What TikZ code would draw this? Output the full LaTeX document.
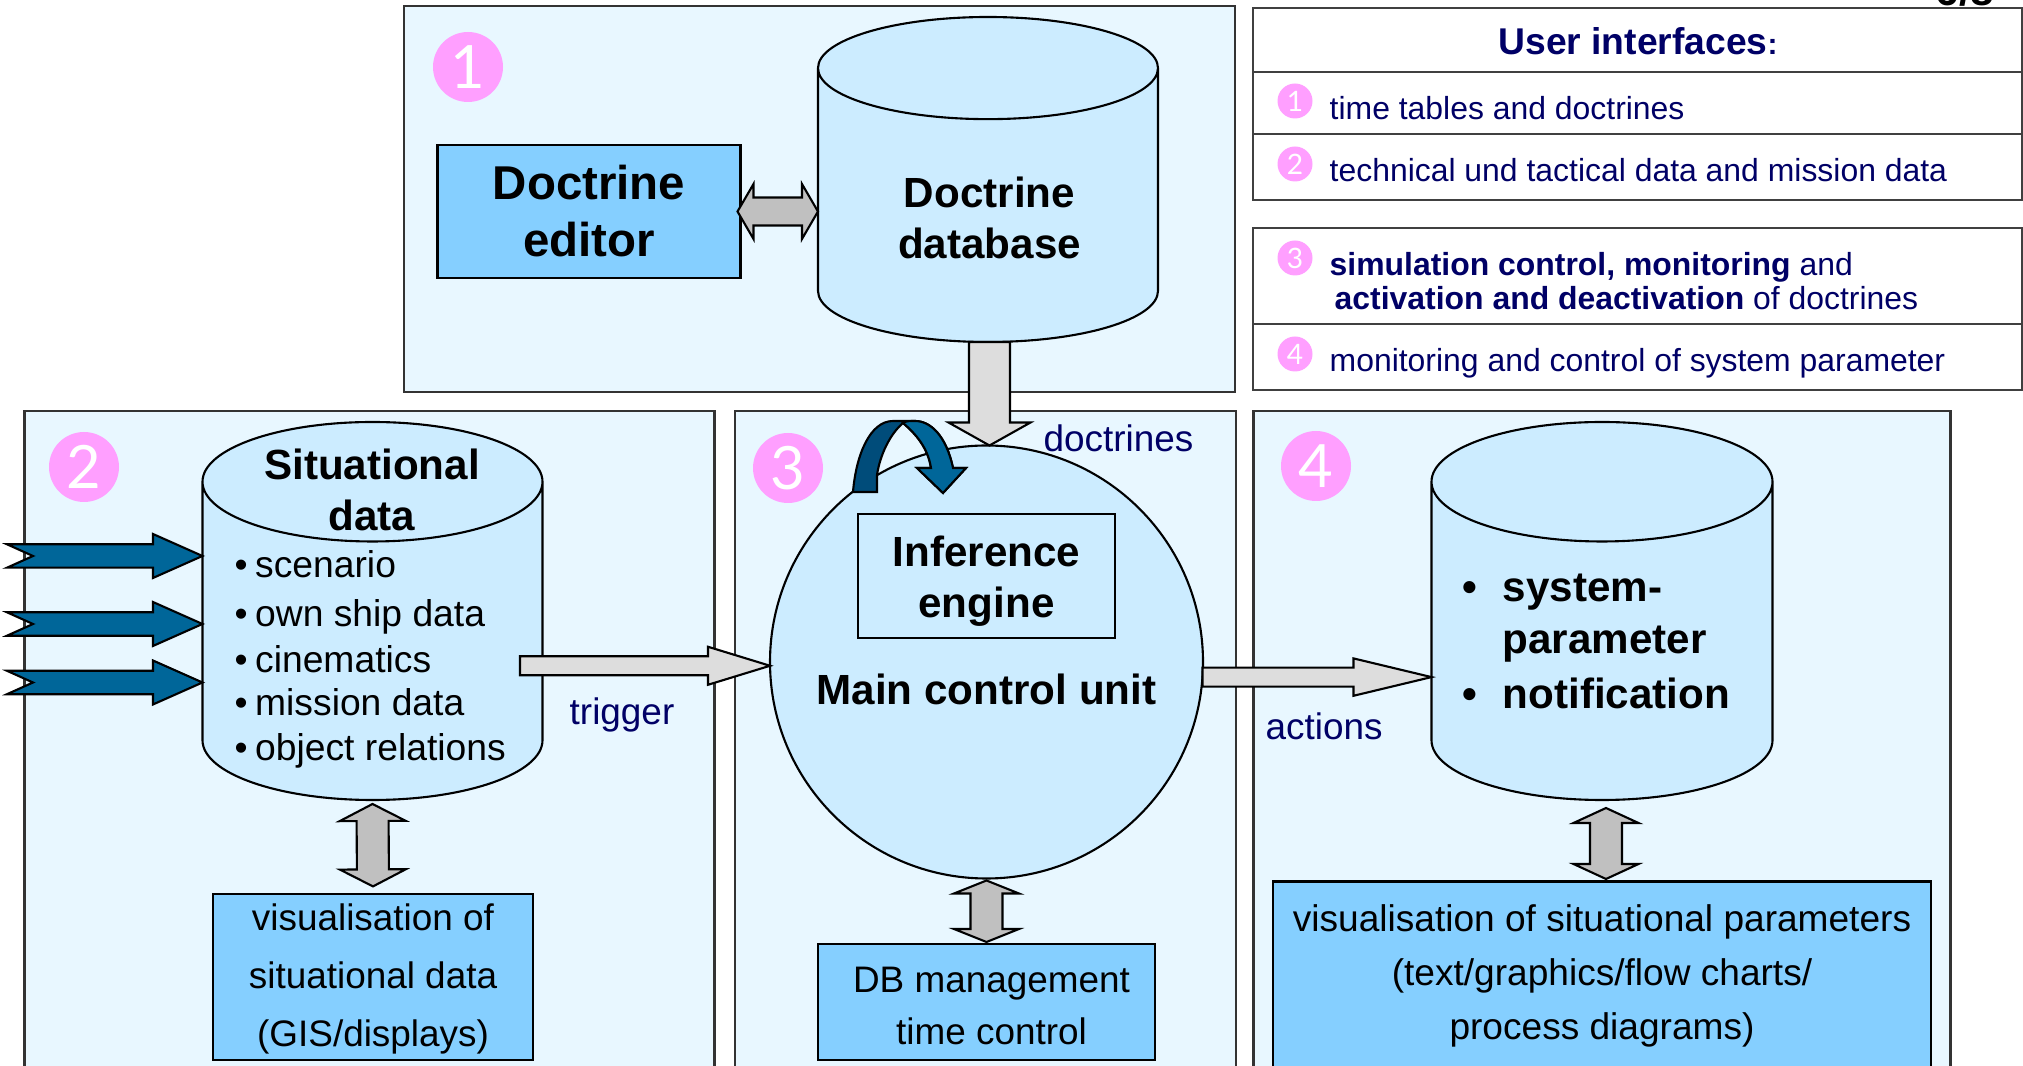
\documentclass[tikz,border=0pt]{standalone}
\usepackage{fontspec}
\setmainfont{Liberation Sans}
\newfontfamily\digitfont{Lato}
\usetikzlibrary{calc,shapes.geometric}
\definecolor{panelblue}{HTML}{E8F7FF}
\definecolor{drumblue}{HTML}{CCECFF}
\definecolor{boxblue}{HTML}{85CFFF}
\definecolor{pinkdot}{HTML}{FF9FFF}
\definecolor{navytext}{HTML}{000066}
\definecolor{seablue}{HTML}{006699}
\definecolor{seadark}{HTML}{004C7A}
\definecolor{barlight}{HTML}{DDDDDD}
\definecolor{bardark}{HTML}{C0C0C0}
\newcommand{\sizetext}[2]{\fontsize{#1}{#2}\selectfont}
\tikzset{
	panel/.style={draw=black!80, line width=.6pt, fill=panelblue, anchor=north west, inner sep=0pt, outer sep=0pt},
	drum/.style={draw, line width=.6pt, cylinder, shape border rotate=90, fill=drumblue, outer sep=0pt, anchor=south},
	viewbox/.style={draw, line width=.6pt, fill=boxblue, inner sep=0pt, outer sep=0pt, align=center},
	rowbox/.style={draw=black!75, line width=.6pt, anchor=north west, inner sep=0pt, outer sep=0pt},
	bigdot/.style={circle, fill=pinkdot, text=white, minimum size=7cm/10, inner sep=0pt, font=\digitfont\sizetext{17}{17}},
	smalldot/.style={circle, fill=pinkdot, text=white, minimum size=3.5cm/10, inner sep=0pt, font=\digitfont\sizetext{8}{8}},
	navyword/.style={anchor=base west, inner sep=0pt, text=navytext, font=\sizetext{10.5}{12}},
	rowtext/.style={anchor=base west, inner sep=0pt, text=navytext, font=\sizetext{9.08}{11}},
	listtext/.style={anchor=base west, inner sep=0pt, font=\sizetext{10.6}{12}},
	headword/.style={inner sep=0pt, align=center, font=\bfseries\sizetext{12}{14.5}},
	% block arrows, half shaft / half head / head length
	onearrow/.style args={#1/#2/#3}{to path={(\tikztostart) coordinate (st) (\tikztotarget) coordinate (tg)
		($(tg)!#3!(st)$) coordinate (nk)
		($(st)!#1!90:(tg)$) -- ($(nk)!#1!90:(tg)$) -- ($(nk)!#2!90:(tg)$) -- (tg)
		-- ($(nk)!#2!-90:(tg)$) -- ($(nk)!#1!-90:(tg)$) -- ($(st)!#1!-90:(tg)$) -- cycle}},
	twoarrow/.style args={#1/#2/#3}{to path={(\tikztostart) coordinate (st) (\tikztotarget) coordinate (tg)
		($(tg)!#3!(st)$) coordinate (nk) ($(st)!#3!(tg)$) coordinate (nl)
		(st) -- ($(nl)!#2!90:(tg)$) -- ($(nl)!#1!90:(tg)$) -- ($(nk)!#1!90:(tg)$) -- ($(nk)!#2!90:(tg)$) -- (tg)
		-- ($(nk)!#2!-90:(tg)$) -- ($(nk)!#1!-90:(tg)$) -- ($(nl)!#1!-90:(tg)$) -- ($(nl)!#2!-90:(tg)$) -- cycle}},
	feedarrow/.style={draw, line width=.6pt, fill=seablue, to path={(\tikztostart) coordinate (st) (\tikztotarget) coordinate (tg)
		($(tg)!4.95mm!(st)$) coordinate (nk) ($(st)!2.6mm!(tg)$) coordinate (nt)
		(nt) -- ($(st)!1.17mm!90:(tg)$) -- ($(nk)!1.17mm!90:(tg)$) -- ($(nk)!2.2mm!90:(tg)$) -- (tg)
		-- ($(nk)!2.2mm!-90:(tg)$) -- ($(nk)!1.17mm!-90:(tg)$) -- ($(st)!1.17mm!-90:(tg)$) -- cycle}},
	lightbar/.style={draw, line width=.6pt, fill=barlight},
	darkbar/.style={draw, line width=.6pt, fill=bardark},
}
\begin{document}
\begin{tikzpicture}[y=-1cm]
	\useasboundingbox (0,0) rectangle (20.23,10.66);
	% panels
	\node[panel, minimum width=8.31cm, minimum height=3.86cm] (p1) at (4.04,.06) {};
	\node[panel, minimum width=6.90cm, minimum height=6.69cm] (p2) at (.245,4.11) {};
	\node[panel, minimum width=5.01cm, minimum height=6.69cm] (p3) at (7.35,4.11) {};
	\node[panel, minimum width=6.97cm, minimum height=6.69cm] (p4) at (12.535,4.11) {};
	% user interface table
	\node[rowbox, minimum width=7.69cm, minimum height=.64cm] (r0) at (12.53,.08) {};
	\node[rowbox, minimum width=7.69cm, minimum height=.62cm] (r1) at (12.53,.72) {};
	\node[rowbox, minimum width=7.69cm, minimum height=.66cm] (r2) at (12.53,1.34) {};
	\node[rowbox, minimum width=7.69cm, minimum height=.96cm] (r3) at (12.53,2.28) {};
	\node[rowbox, minimum width=7.69cm, minimum height=.66cm] (r4) at (12.53,3.24) {};
	\node[anchor=base, inner sep=0pt, font=\bfseries\sizetext{12}{14}] (pg) at (19.65,.055) {6/8};
	\node[inner sep=0pt, text=navytext, font=\bfseries\sizetext{10.6}{13}] (rt) at (16.38,.41) {User interfaces{\sizetext{8.5}{10}:}};
	\node[smalldot] (s1) at (12.95,1.01) {1};
	\node[smalldot] (s2) at (12.95,1.64) {2};
	\node[smalldot] (s3) at (12.95,2.58) {3};
	\node[smalldot] (s4) at (12.95,3.54) {4};
	\node[rowtext] (t1) at (13.29,1.20) {time tables and doctrines};
	\node[rowtext] (t2) at (13.29,1.82) {technical und tactical data and mission data};
	\node[rowtext] (t3) at (13.29,2.76) {\textbf{simulation control, monitoring} and};
	\node[rowtext] (t3b) at (13.34,3.10) {\textbf{activation and deactivation} of doctrines};
	\node[rowtext] (t4) at (13.29,3.72) {monitoring and control of system parameter};
	% big numbers
	\node[bigdot] (n1) at (4.68,.67) {1};
	\node[bigdot] (n2) at (.84,4.67) {2};
	\node[bigdot] (n3) at (7.88,4.68) {3};
	\node[bigdot] (n4) at (13.16,4.66) {4};
	% first part
	\node[drum, minimum width=3.40cm, minimum height=3.25cm, aspect=4.36] (db) at (9.88,3.42) {};
	\node[viewbox, minimum width=3.03cm, minimum height=1.33cm, font=\bfseries\sizetext{13.5}{16.2}] (editor) at (5.89,2.115) {\vphantom{D}Doctrine\\editor};
	\node[headword] (dbname) at (9.895,2.18) {Doctrine\\database};
	\draw[darkbar, twoarrow=1.4mm/2.75mm/1.6mm] ($(editor.east)+(-.03,0)$) to (db.west |- editor.east);
	% second part
	\node[drum, minimum width=3.40cm, minimum height=3.78cm, aspect=5.1] (sit) at (3.725,8.00) {};
	\node[headword] (sitname) at (3.72,4.90) {Situational\\data};
	\node[listtext] (l1) at (2.34,5.78) {\textbullet\kern.2em scenario};
	\node[listtext] (l2) at (2.34,6.27) {\textbullet\kern.2em own ship data};
	\node[listtext] (l3) at (2.34,6.73) {\textbullet\kern.2em cinematics};
	\node[listtext] (l4) at (2.34,7.16) {\textbullet\kern.2em mission data};
	\node[listtext] (l5) at (2.34,7.61) {\textbullet\kern.2em object relations};
	\node[viewbox, minimum width=3.20cm, minimum height=1.66cm] (sitview) at (3.73,9.77) {};
	\node[inner sep=0pt, align=center, font=\sizetext{10.5}{16.5}] (sittext) at (3.73,9.79) {visualisation of\\situational data\\(GIS/displays)};
	\coordinate (in1) at (.07,5.56);
	\coordinate (in2) at (.07,6.24);
	\coordinate (in3) at (.07,6.825);
	\draw[feedarrow] (in1) to (sit.west |- in1);
	\draw[feedarrow] (in2) to (sit.west |- in2);
	\draw[feedarrow] (in3) to (sit.west |- in3);
	\draw[darkbar, twoarrow=1.6mm/3.3mm/1.7mm] ($(sit.south)+(0,.04)$) to ($(sitview.north)+(0,-.076)$);
	% third part
	\node[circle, draw, line width=.6pt, fill=drumblue, minimum size=4.33cm, inner sep=0pt, outer sep=0pt] (main) at (9.865,6.62) {};
	\node[draw, line width=.6pt, minimum width=2.57cm, minimum height=1.24cm, inner sep=0pt, outer sep=0pt, align=center, font=\bfseries\sizetext{12}{14.6}] (engine) at (9.865,5.76) {};
	\node[headword, font=\bfseries\sizetext{12}{14.6}] (enginetext) at (9.865,5.81) {Inference\\engine};
	\node[headword, anchor=base] (mainname) at (9.865,7.05) {Main control unit};
	\node[viewbox, minimum width=3.37cm, minimum height=1.16cm] (dbview) at (9.865,10.02) {};
	\node[inner sep=0pt, align=center, font=\sizetext{10.5}{14.8}] (dbtext) at (9.915,10.06) {DB management\\time control};
	\coordinate (loopa) at (8.53,4.92);
	\coordinate (loopb) at (8.77,4.92);
	\coordinate (looptop) at (9.03,4.23);
	\coordinate (looptip) at (9.43,4.93);
	\draw[line width=.6pt, fill=seadark] (loopa) .. controls (8.56,4.55) and (8.70,4.21) .. (8.93,4.21) -- (9.15,4.21) .. controls (9.30,4.21) and (9.46,4.35) .. (9.53,4.68) -- (9.66,4.68) -- (looptip) -- (9.17,4.68) -- (9.31,4.68) .. controls (9.28,4.48) and (9.16,4.34) .. (looptop) .. controls (8.90,4.34) and (8.80,4.55) .. (8.77,4.75) -- (loopb) -- cycle;
	\draw[line width=.6pt, fill=seablue] (looptop) .. controls (9.05,4.21) and (9.10,4.21) .. (9.15,4.21) .. controls (9.30,4.21) and (9.46,4.35) .. (9.53,4.68) -- (9.66,4.68) -- (looptip) -- (9.17,4.68) -- (9.31,4.68) .. controls (9.28,4.48) and (9.16,4.34) .. (looptop) -- cycle;
	\node[navyword] (doclabel) at (10.43,4.52) {doctrines};
	\node[navyword] (triglabel) at (5.69,7.25) {trigger};
	\draw[darkbar, twoarrow=1.6mm/3.25mm/1.3mm] ($(main.south)+(0,.02)$) to ($(dbview.north)+(0,-.02)$);
	% fourth part
	\node[drum, minimum width=3.41cm, minimum height=3.78cm, aspect=5.1] (sys) at (16.02,8.00) {};
	\node[viewbox, minimum width=6.58cm, minimum height=1.89cm, font=\sizetext{10.55}{15.4}] (sysview) at (16.02,9.76) {visualisation of situational parameters\\(text/graphics/flow charts/\\process diagrams)};
	\node[listtext, font=\bfseries\sizetext{12}{14}] (b1) at (14.62,6.02) {\textbullet};
	\node[listtext, font=\bfseries\sizetext{12}{14}] (q1) at (15.02,6.02) {system-};
	\node[listtext, font=\bfseries\sizetext{12}{14}] (q2) at (15.02,6.535) {parameter};
	\node[listtext, font=\bfseries\sizetext{12}{14}] (b2) at (14.62,7.09) {\textbullet};
	\node[listtext, font=\bfseries\sizetext{12}{14}] (q3) at (15.02,7.09) {notification};
	\node[navyword] (actlabel) at (12.65,7.40) {actions};
	\draw[darkbar, twoarrow=1.6mm/3.25mm/1.5mm] (16.06,8.08) to (16.06,8.79);
	% connections between the parts
	\draw[lightbar, onearrow=2.05mm/4.1mm/2.3mm] ($(db.south)+(.015,0)$) to ($(db.south |- main.north)+(.015,0)$);
	\draw[lightbar, onearrow=.95mm/1.9mm/6.2mm] ($(main.181)+(-2.5,0)$) to (main.181);
	\draw[lightbar, onearrow=.95mm/1.87mm/7.8mm] (main.-4) to (sys.west |- main.-4);
\end{tikzpicture}
\end{document}
